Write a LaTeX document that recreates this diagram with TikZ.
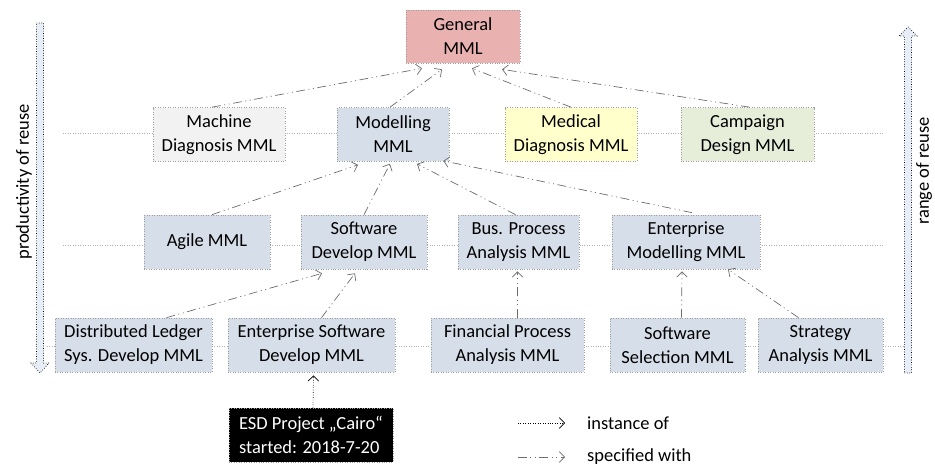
\documentclass[tikz,border=0pt]{standalone}
\usepackage{fontspec}
\setmainfont{Carlito}
\usetikzlibrary{arrows.meta,calc}

\definecolor{mmlblue}{HTML}{D6DEEA}
\definecolor{mmlpink}{HTML}{E9B1B0}
\definecolor{mmlgray}{HTML}{F2F2F2}
\definecolor{mmlyellow}{HTML}{FFFFCC}
\definecolor{mmlgreen}{HTML}{E6EEDA}
\definecolor{reusefill}{HTML}{E8EEF7}

\begin{document}
\begin{tikzpicture}[x=0.02cm, y=-0.02cm,
    >={Straight Barb[length=3pt,width=6pt]},
    mml/.style={draw=gray!75, densely dotted, fill=mmlblue, align=center,
        minimum height=1.08cm, inner sep=1pt, font=\fontsize{10.5}{13.6}\selectfont},
    spec/.style={->, gray!85!black, dash pattern=on 5pt off 2pt on 0.6pt off 2pt on 0.6pt off 2pt},
    inst/.style={->, densely dotted, black},
    level/.style={gray!60, densely dotted}]
        \useasboundingbox (0,0) rectangle (935,466);

        % Level lines
        \foreach \y/\x in {133/63, 245/63, 346/47} {
            \draw[level] (\x,\y) -- (883,\y);
        }
        \draw[level] (883,346) -- (905,346);

        % Reuse arrows
        \draw[densely dotted, fill=reusefill] (36.5,23) -- (43.5,23) -- (43.5,363) -- (49,363) -- (40,373) -- (31,363) -- (36.5,363) -- cycle;
        \node[rotate=90, font=\fontsize{10.5}{13.6}\selectfont] (productivity) at (24,182) {productivity of reuse};
        \draw[densely dotted, fill=reusefill] (904.5,373) -- (911.5,373) -- (911.5,36) -- (917,36) -- (908,27) -- (899,36) -- (904.5,36) -- cycle;
        \node[rotate=90, font=\fontsize{10.5}{13.6}\selectfont] (range) at (924,171) {range of reuse};

        % Top
        \node[mml, fill=mmlpink, minimum width=2.28cm, minimum height=1.06cm] (general) at (463,36.5) {General\\MML};

        % Level 1
        \node[mml, fill=mmlgray, minimum width=2.64cm] (machine) at (219,134.5) {Machine\\Diagnosis MML};
        \node[mml, minimum width=2.24cm] (modelling) at (393,134.5) {Modelling\\MML};
        \node[mml, fill=mmlyellow, minimum width=2.64cm] (medical) at (571,134.5) {Medical\\Diagnosis MML};
        \node[mml, fill=mmlgreen, minimum width=2.66cm] (campaign) at (747.5,134.5) {Campaign\\Design MML};

        % Level 2
        \node[mml, minimum width=2.52cm] (agile) at (207,242) {Agile MML};
        \node[mml, minimum width=2.52cm] (softdev) at (364,242) {Software\\Develop MML};
        \node[mml, minimum width=2.42cm] (busproc) at (518.5,242) {Bus. Process\\Analysis MML};
        \node[mml, minimum width=2.96cm] (entmod) at (686,242) {Enterprise\\Modelling MML};

        % Level 3
        \node[mml, minimum width=3.14cm] (ledger) at (133.5,345) {Distributed Ledger\\Sys. Develop MML};
        \node[mml, minimum width=3.34cm] (entsoft) at (311.5,345) {Enterprise Software\\Develop MML};
        \node[mml, minimum width=3.06cm] (finproc) at (507.5,345) {Financial Process\\Analysis MML};
        \node[mml, minimum width=2.70cm] (swsel) at (677.5,345) {Software\\Selection MML};
        \node[mml, minimum width=2.50cm] (strategy) at (820.5,345) {Strategy\\Analysis MML};

        % Project instance
        \node[mml, fill=black, text=white, align=left, minimum width=3.28cm] (cairo) at (311,435) {ESD Project „Cairo“\\started: 2018-7-20};

        % Specified with
        \draw[spec] ($(machine.north)+(-7,0)$) -- ($(general.south)+(-41,5)$);
        \draw[spec] ($(modelling.north)+(-3,0)$) -- ($(general.south)+(-21,6)$);
        \draw[spec] (medical.north) -- ($(general.south)+(9,5)$);
        \draw[spec] ($(campaign.north)+(2,0)$) -- ($(general.south)+(39,6)$);

        \draw[spec] ($(agile.north)+(5,0)$) -- ($(modelling.south)+(-35,3)$);
        \draw[spec] (softdev.north) -- ($(modelling.south)+(-3,2)$);
        \draw[spec] ($(busproc.north)+(-3,0)$) -- ($(modelling.south)+(24,2)$);
        \draw[spec] ($(entmod.north)+(6,-2)$) -- ($(modelling.south east)+(-6,-1)$);

        \draw[spec] ($(ledger.north)+(33,0)$) -- ($(softdev.south)+(-42,4)$);
        \draw[spec] ($(entsoft.north)+(10,0)$) -- ($(softdev.south)+(-9,4)$);
        \draw[spec] ($(finproc.north)+(10,0)$) -- ($(busproc.south)+(-1,2)$);
        \draw[spec] ($(swsel.north)+(4,0)$) -- ($(entmod.south)+(-4,2)$);
        \draw[spec] ($(strategy.north)+(-22,0)$) -- ($(entmod.south)+(42,0)$);

        % Instance of
        \draw[inst] ($(cairo.north)+(2,0)$) -- ($(entsoft.south)+(2,3)$);

        % Legend
        \coordinate (instA) at (518,423);
        \coordinate (instB) at (565,423);
        \coordinate (specA) at (518,457);
        \coordinate (specB) at (565,457);
        \draw[inst] (instA) -- (instB);
        \node[anchor=west, font=\fontsize{10.5}{13.6}\selectfont] (instlabel) at (581,423) {instance of};
        \draw[spec] (specA) -- (specB);
        \node[anchor=west, font=\fontsize{10.5}{13.6}\selectfont] (speclabel) at (581,457) {specified with};

    \end{tikzpicture}
\end{document}
